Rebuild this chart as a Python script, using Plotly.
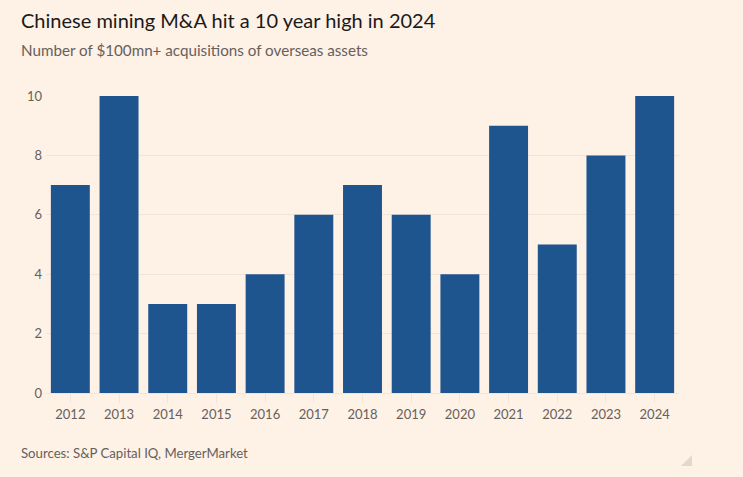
import plotly.graph_objects as go

years = ["2012", "2013", "2014", "2015", "2016", "2017", "2018", "2019", "2020", "2021", "2022", "2023", "2024"]
deals = [7, 10, 3, 3, 4, 6, 7, 6, 4, 9, 5, 8, 10]
y_ticks = [0, 2, 4, 6, 8, 10]

BG = "#FEF1E6"
BAR = "#1F558F"
GRID = "#F3E4D9"

W, H = 743, 477
L, R, T, B = 46, 64, 96, 84
PW, PH = W - L - R, H - T - B


def px(xp):
    return (xp - L) / PW


def py(yp):
    return (H - B - yp) / PH


fig = go.Figure(go.Bar(x=years, y=deals, marker=dict(color=BAR, line=dict(width=0)), width=0.8))

fig.update_layout(
    width=W, height=H,
    paper_bgcolor=BG, plot_bgcolor=BG,
    margin=dict(l=L, r=R, t=T, b=B),
    showlegend=False,
    font=dict(family="Lato, Noto Sans, sans-serif", color="#66605C", size=13),
)
fig.update_yaxes(range=[0, 10], tickvals=y_ticks, showgrid=True, gridcolor=GRID, gridwidth=1,
                 zeroline=False, showline=False, ticks="", tickfont=dict(size=13, color="#66605C"),
                 ticklabelstandoff=3)
fig.update_xaxes(showgrid=False, showline=True, linecolor=GRID, ticks="outside", ticklen=9,
                 tickcolor=GRID, tickfont=dict(size=13, color="#66605C"), type="category")

fig.add_annotation(text="Chinese mining M&A hit a 10 year high in 2024", xref="paper", yref="paper",
                   x=px(19), y=py(20), xanchor="left", yanchor="middle", showarrow=False,
                   font=dict(size=20, color="#1A1A1A"))
fig.add_annotation(text="Number of $100mn+ acquisitions of overseas assets", xref="paper", yref="paper",
                   x=px(19), y=py(50), xanchor="left", yanchor="middle", showarrow=False,
                   font=dict(size=15.2, color="#66605C"))
fig.add_annotation(text="Sources: S&P Capital IQ, MergerMarket", xref="paper", yref="paper",
                   x=px(19), y=py(453), xanchor="left", yanchor="middle", showarrow=False,
                   font=dict(size=13.2, color="#66605C"))

# small resize-handle triangle in the bottom-right corner
fig.add_shape(type="path", xref="paper", yref="paper", line=dict(width=0), fillcolor="#E2D8D0",
              path=f"M {px(692)} {py(455)} L {px(692)} {py(466)} L {px(681)} {py(466)} Z")

fig.write_html("out.html", config={"displayModeBar": False},
               post_script="document.body.style.margin='0';document.body.style.background='%s';" % BG)
